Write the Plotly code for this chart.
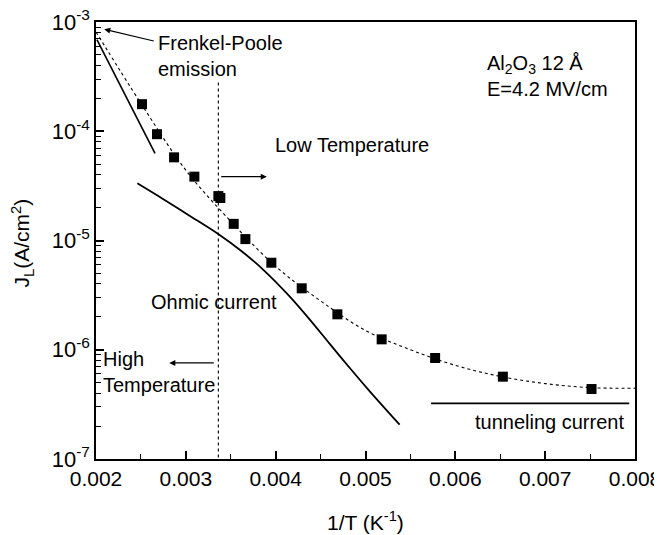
import plotly.graph_objects as go

# measured data points
x_data = [0.002512, 0.002679, 0.002869, 0.003095, 0.003362, 0.003384, 0.003533,
          0.003663, 0.003952, 0.00429, 0.004687, 0.00518, 0.005775, 0.006529, 0.007516]
j_data = [1.77e-4, 9.4e-5, 5.77e-5, 3.84e-5, 2.55e-5, 2.45e-5, 1.42e-5,
          1.03e-5, 6.26e-6, 3.65e-6, 2.11e-6, 1.245e-6, 8.4e-7, 5.67e-7, 4.37e-7]

# dotted fit curve
x_fit = [0.002, 0.0025, 0.003, 0.0035, 0.004, 0.0045, 0.005, 0.0055, 0.006, 0.0065, 0.007, 0.0075, 0.008]
j_fit = [8.1e-4, 1.8e-4, 4.4e-5, 1.5e-5, 5.8e-6, 2.8e-6, 1.5e-6, 1.0e-6, 7.2e-7, 5.7e-7, 4.9e-7, 4.5e-7, 4.45e-7]

# Frenkel-Poole line
x_fp = [0.00201, 0.002657]
j_fp = [6.9e-4, 6.27e-5]

# Ohmic current curve
x_ohm = [0.00246, 0.00275, 0.00305, 0.00336, 0.00360, 0.00386, 0.00416,
         0.00438, 0.00460, 0.00483, 0.00505, 0.00538]
j_ohm = [3.34e-5, 2.39e-5, 1.67e-5, 1.148e-5, 8.24e-6, 5.42e-6, 3.05e-6,
         1.89e-6, 1.138e-6, 6.73e-7, 4.14e-7, 2.06e-7]

# tunneling current line
x_tun = [0.00573, 0.007936]
j_tun = [3.23e-7, 3.23e-7]

# boundary line
x_vline = [0.003362, 0.003362]
j_vline = [2.8e-4, 1e-7]

FONT = "Liberation Sans, Arial, Helvetica, sans-serif"

fig = go.Figure()
fig.add_trace(go.Scatter(x=x_fit, y=j_fit, mode="lines", line=dict(color="black", width=1.1, dash="dot", shape="spline"), showlegend=False))
fig.add_trace(go.Scatter(x=x_vline, y=j_vline, mode="lines", line=dict(color="black", width=1.1, dash="dot"), showlegend=False))
fig.add_trace(go.Scatter(x=x_fp, y=j_fp, mode="lines", line=dict(color="black", width=1.6), showlegend=False))
fig.add_trace(go.Scatter(x=x_ohm, y=j_ohm, mode="lines", line=dict(color="black", width=1.8, shape="spline", smoothing=0.8), showlegend=False))
fig.add_trace(go.Scatter(x=x_tun, y=j_tun, mode="lines", line=dict(color="black", width=1.6), showlegend=False))
fig.add_trace(go.Scatter(x=x_data, y=j_data, mode="markers", marker=dict(symbol="square", size=10, color="black"), showlegend=False))

txt = dict(font=dict(family=FONT, size=20, color="black"), showarrow=False, xanchor="left", align="left", xref="x", yref="y")
annotations = [
    dict(x=0.00267, y=-3.307, text="Frenkel-Poole<br>emission", **txt),
    dict(x=0.00633, y=-3.49, text="Al<sub>2</sub>O<sub>3</sub> 12 Å<br>E=4.2 MV/cm", **txt),
    dict(x=0.00397, y=-4.123, text="Low Temperature", **txt),
    dict(x=0.00259, y=-5.566, text="Ohmic current", **txt),
    dict(x=0.00206, y=-6.208, text="High<br>Temperature", **txt),
    dict(x=0.00620, y=-6.659, text="tunneling current", **txt),
]
arr = dict(showarrow=True, arrowhead=2, arrowsize=1, arrowwidth=1.2, arrowcolor="black", text="", xref="x", yref="y", axref="pixel", ayref="pixel")
annotations += [
    dict(x=0.002092, y=-3.067, ax=51, ay=12, **arr),
    dict(x=0.003901, y=-4.416, ax=-47, ay=0, **arr),
    dict(x=0.002816, y=-6.121, ax=46, ay=0, **arr),
]
# axis titles
annotations += [
    dict(text="1/T (K<sup>-1</sup>)", xref="paper", yref="paper", x=0.5, y=0, yanchor="middle",
         yshift=-62, showarrow=False, font=dict(family=FONT, size=21, color="black")),
    dict(text="J<sub>L</sub>(A/cm<sup>2</sup>)", xref="paper", yref="paper", x=0, y=0.5, xanchor="center",
         yanchor="middle", xshift=-74, yshift=-3, textangle=-90, showarrow=False,
         font=dict(family=FONT, size=21, color="black")),
]

# page body has an 8px margin, so the figure is sized/offset to compensate
fig.update_layout(
    width=654, height=527,
    margin=dict(l=88, r=27, t=14, b=76),
    plot_bgcolor="white", paper_bgcolor="white",
    font=dict(family=FONT, size=20, color="black"),
    annotations=annotations,
    xaxis=dict(range=[0.002, 0.008], tickvals=[0.002, 0.003, 0.004, 0.005, 0.006, 0.007, 0.008],
               ticktext=["0.002", "0.003", "0.004", "0.005", "0.006", "0.007", "0.008"],
               ticks="inside", ticklen=8, tickwidth=1.5, tickcolor="black",
               minor=dict(ticks="inside", ticklen=5, tickwidth=1.2, tickcolor="black", dtick=0.0005, showgrid=False),
               showline=True, linecolor="black", linewidth=1.5, mirror=True, showgrid=False, zeroline=False,
               automargin=False, ticklabeloverflow="allow",
               tickfont=dict(size=21)),
    yaxis=dict(type="log", range=[-7, -3], tickvals=[1e-7, 1e-6, 1e-5, 1e-4, 1e-3],
               ticktext=["10<sup>-7</sup>", "10<sup>-6</sup>", "10<sup>-5</sup>", "10<sup>-4</sup>", "10<sup>-3</sup>"],
               ticks="inside", ticklen=8, tickwidth=1.5, tickcolor="black",
               minor=dict(ticks="inside", ticklen=5, tickwidth=1.2, tickcolor="black", dtick="D1", showgrid=False),
               showline=True, linecolor="black", linewidth=1.5, mirror=True, showgrid=False, zeroline=False,
               automargin=False, ticklabeloverflow="allow",
               tickfont=dict(size=22)),
)

fig.write_html("out.html")
